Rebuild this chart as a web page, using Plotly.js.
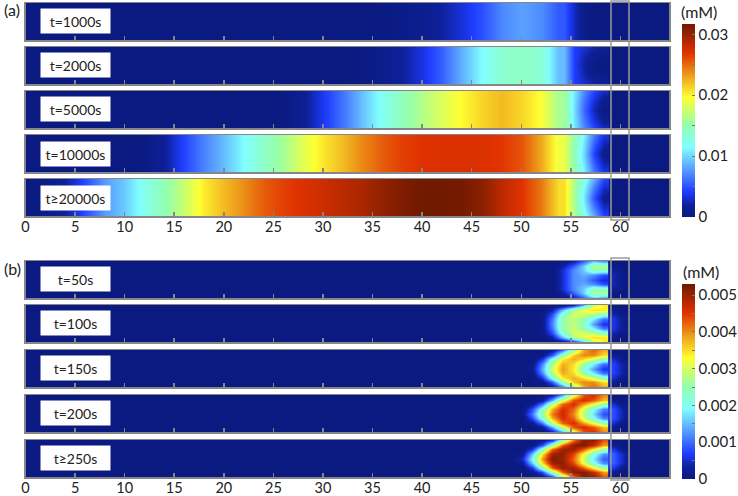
<!DOCTYPE html>
<html><head><meta charset="utf-8">
<script src="https://cdn.plot.ly/plotly-3.0.1.min.js"></script>
<style>html,body{margin:0;padding:0;background:#fff}#c{width:738px;height:496px}</style>
</head><body><div id="c"></div>
<script>
const labelsA = ['t=1000s','t=2000s','t=5000s','t=10000s','t≥20000s'];
const labelsB = ['t=50s','t=100s','t=150s','t=200s','t≥250s'];

// Panel (a): concentration (mM) along the channel, x = 0,2,...,54
const xA = [0,2,4,6,8,10,12,14,16,18,20,22,24,26,28,30,32,34,36,38,40,42,44,46,48,50,52,54];
const a1000 = [0,0,0,0,0,0,0,0,0,0,0,0,0,0,0,0,0,0,.0003,.0007,.0012,.002,.0033,.0048,.007,.008,.0072,.005];
const a2000 = [0,0,0,0,0,0,0,0,0,0,0,0,0,0,0,0,.0001,.0004,.001,.002,.0035,.0055,.0085,.0114,.0135,.014,.0132,.0085];
const a5000 = [0,0,0,0,0,0,0,0,0,0,0,0,0,.0003,.0015,.0038,.0062,.0092,.012,.0145,.0165,.0182,.0198,.0212,.0222,.0212,.0195,.0155];
const a10000 = [0,0,0,0,0,0,.0003,.0018,.0045,.0068,.009,.0114,.0138,.016,.0185,.0205,.0222,.024,.0255,.0265,.027,.0272,.0272,.0272,.0268,.0258,.0228,.0185];
const a20000 = [0,.0006,.002,.0046,.0077,.0095,.0123,.0148,.0175,.0203,.0222,.0238,.0255,.0265,.0272,.0278,.0285,.0292,.0302,.031,.0316,.0316,.0314,.0305,.0285,.027,.0245,.0205];
// near the wall, x = 54.3 ... 58.3 : wall edge, quarter height, mid height
const xWallA = [54.3,55.3,56.3,57.3,58.3];
const tail1000 = [[.0052,.0028,.0009,.0002,.0001],[.0052,.0028,.0009,.0002,.0001],[.0052,.0028,.0009,.0002,.0001]];
const tail2000 = [[.009,.0042,.0032,.0023,.0016],[.009,.0042,.0024,.001,.0007],[.009,.0042,.002,.0004,.0002]];
const tail5000 = [[.0159,.0107,.007,.0045,.0028],[.0159,.0105,.0063,.0033,.0012],[.0159,.0103,.0058,.0025,.0005]];
const tail10000 = [[.0189,.0152,.011,.0065,.0036],[.0189,.0148,.0103,.0054,.0022],[.0189,.0145,.0098,.0042,.001]];
const tail20000 = [[.0209,.0165,.0123,.0083,.0044],[.0209,.0162,.0112,.0065,.0028],[.0209,.016,.0104,.005,.0011]];

// Panel (b): rows from wall to mid height
const xB = [48,49.03,50.06,51.09,52.12,53.15,54.18,55.21,56.24,57.27,58.3];
const b50 = [
 [0,0,0,0,0,0,.0001,.0003,.0009,.0015,.0012],
 [0,0,0,0,0,0,.0003,.0009,.0016,.0027,.0027],
 [0,0,0,0,0,0,.0005,.0012,.0016,.0024,.0024],
 [0,0,0,0,0,0,.0005,.0012,.0014,.0012,.0008],
 [0,0,0,0,0,0,.0005,.0012,.0013,.0009,.0005]];
const b100 = [
 [0,0,0,0,0,0,0,.0004,.0014,.0029,.0034],
 [0,0,0,0,0,.0004,.0015,.0027,.0032,.0035,.0034],
 [0,0,0,0,.0001,.0008,.0022,.003,.003,.0028,.0023],
 [0,0,0,0,.0001,.0011,.0025,.0029,.0025,.0018,.001],
 [0,0,0,0,.0001,.0012,.0025,.0029,.0024,.0013,.0006]];
const b150 = [
 [0,0,0,0,0,.0002,.001,.0025,.0038,.0042,.0038],
 [0,0,0,0,.0001,.0009,.0024,.0036,.004,.004,.0035],
 [0,0,0,0,.0006,.0021,.0034,.0038,.0035,.003,.0024],
 [0,0,0,.0001,.0012,.0028,.0038,.0035,.0026,.0018,.001],
 [0,0,0,.0002,.0014,.003,.0039,.0034,.0022,.0013,.0006]];
const b200 = [
 [0,0,0,0,0,.0003,.0013,.003,.0043,.0046,.004],
 [0,0,0,0,.0002,.0014,.003,.0043,.0046,.0043,.0037],
 [0,0,0,.0002,.0011,.0029,.0042,.0046,.0039,.0032,.0025],
 [0,0,0,.0008,.0022,.0038,.0046,.0042,.003,.002,.0011],
 [0,0,.0001,.0011,.0026,.0041,.0047,.004,.0028,.0017,.0008]];
const b250 = [
 [0,0,0,0,.0001,.0006,.0024,.0041,.0051,.0051,.0043],
 [0,0,0,.0001,.0008,.0025,.0042,.0051,.0052,.0047,.0039],
 [0,0,0,.0006,.0023,.0042,.005,.005,.0043,.0034,.0026],
 [0,0,.0002,.0016,.0035,.005,.0051,.0044,.0032,.0021,.0012],
 [0,0,.0005,.002,.0039,.0052,.005,.0042,.003,.0018,.0009]];
// just beyond the wall, x = 59.3, 60.3, 61.3
const xBeyond = [59.3,60.3,61.3];
const beyond50 = [[0,0,0],[.0001,0,0],[.0003,.0001,0],[.0004,.0001,0],[.0004,.0001,0]];
const beyond100 = [[0,0,0],[.0002,0,0],[.0004,.0001,0],[.0006,.0002,0],[.0006,.0002,0]];
const beyond150 = [[0,0,0],[.0002,0,0],[.0005,.0001,0],[.0007,.0003,0],[.0007,.0003,0]];
const beyond200 = [[0,0,0],[.0002,0,0],[.0005,.0001,0],[.0008,.0003,0],[.0008,.0003,0]];
const beyond250 = [[0,0,0],[.0002,0,0],[.0006,.0001,0],[.0009,.0004,0],[.0009,.0004,0]];

const rowsY5 = [0,.25,.5,.75,1];
const rowsY9 = [0,.125,.25,.375,.5,.625,.75,.875,1];
const rowsY2 = [0,1];
const jet = [[0,'#0a1a80'],[.06,'#0e2099'],[.13,'#1e3cff'],[.25,'#5aa0ff'],[.36,'#80ffff'],[.48,'#96ffaa'],[.62,'#ffff32'],[.72,'#f0aa1e'],[.85,'#e13200'],[1,'#6e1900']];

const W = 738, H = 496;
const stripsA = [[3,40],[47,84],[91,128],[135,172],[179,216]];
const stripsB = [[261,298],[305,342],[350,387],[395,432],[440,477]];
const boxesA = [21,65,109,153.5,197.5];
const boxesB = [279,323,368,413,458];
const fx = p => p / W, fy = p => 1 - p / H;
const font = 'Lato, Open Sans, sans-serif';
const gray = '#85858a';
const mirror = m => [m[0],m[1],m[2],m[3],m[4],m[3],m[2],m[1],m[0]];

const bodiesA = [a1000,a2000,a5000,a10000,a20000];
const tailsA = [tail1000,tail2000,tail5000,tail10000,tail20000];
const bodiesB = [b50,b100,b150,b200,b250];
const beyondB = [beyond50,beyond100,beyond150,beyond200,beyond250];

const data = [], layout = {
  width: W, height: H, margin: {l:0,r:0,t:0,b:0,autoexpand:false}, paper_bgcolor:'#fff', plot_bgcolor:'#0a1a80',
  showlegend:false, annotations:[], shapes:[], font:{family:font, color:'#222', size:15},
  coloraxis: {cmin:0, cmax:.0317, colorscale:jet, colorbar:{
    x:fx(682), xanchor:'left', xpad:0, y:fy(217), yanchor:'bottom', ypad:0, len:193, lenmode:'pixels', thickness:13, thicknessmode:'pixels',
    outlinewidth:0, ticks:'inside', ticklen:3, tickcolor:'#777', tickmode:'array',
    tickvals:[0,.005,.01,.015,.02,.025,.03], ticktext:['0','','0.01','','0.02','','0.03'], tickfont:{family:font,size:15,color:'#222'}}},
  coloraxis2: {cmin:0, cmax:.0053, colorscale:jet, colorbar:{
    x:fx(682), xanchor:'left', xpad:0, y:fy(479), yanchor:'bottom', ypad:0, len:195, lenmode:'pixels', thickness:13, thicknessmode:'pixels',
    outlinewidth:0, ticks:'inside', ticklen:3, tickcolor:'#777', tickmode:'array',
    tickvals:[0,.0005,.001,.0015,.002,.0025,.003,.0035,.004,.0045,.005], ticktext:['0','','0.001','','0.002','','0.003','','0.004','','0.005'], tickfont:{family:font,size:15,color:'#222'}}}
};
let n = 0;
function strip(traces, y, box, label, last) {
  n++;
  const s = n === 1 ? '' : n;
  traces.forEach(t => data.push({type:'heatmap', x:t.x, y:t.y, z:t.z, zsmooth:'best', coloraxis:t.c, xaxis:'x'+s, yaxis:'y'+s, hoverinfo:'skip'}));
  layout['xaxis'+s] = {domain:[fx(25.5),fx(669)], range:[0,64.9], anchor:'y'+s, dtick:5, tick0:0, ticks:'inside', ticklen:4, tickwidth:1.5, tickcolor:gray,
    showline:true, linecolor:gray, linewidth:1.5, mirror:true, showgrid:false, zeroline:false, showticklabels:last, ticklabelstandoff:-3, tickfont:{family:font,size:14.5,color:'#222'}};
  layout['yaxis'+s] = {domain:[fy(y[1]),fy(y[0])], range:[0,1], anchor:'x'+s, showline:true, linecolor:gray, linewidth:1.5, mirror:true, showgrid:false, zeroline:false, showticklabels:false, ticks:''};
  layout.annotations.push({xref:'paper',yref:'paper',x:fx(75.5),y:fy(box),xanchor:'center',yanchor:'middle',text:label,showarrow:false,
    bgcolor:'#fff',width:69,height:24,borderpad:0,font:{family:font,size:14,color:'#222'}});
}
labelsA.forEach((l,i) => {
  const b = bodiesA[i], t = tailsA[i];
  strip([
    {x:xA, y:rowsY2, z:[b,b], c:'coloraxis'},
    {x:xWallA, y:rowsY5, z:[t[0],t[1],t[2],t[1],t[0]], c:'coloraxis'}
  ], stripsA[i], boxesA[i], l, i === 4);
});
labelsB.forEach((l,i) => {
  strip([
    {x:xB, y:rowsY9, z:mirror(bodiesB[i]), c:'coloraxis2'},
    {x:xBeyond, y:rowsY9, z:mirror(beyondB[i]), c:'coloraxis2'}
  ], stripsB[i], boxesB[i], l, i === 4);
});

[[1,220],[258,480]].forEach(([t,b]) => layout.shapes.push({type:'rect',xref:'paper',yref:'paper',x0:fx(611),x1:fx(629),y0:fy(b),y1:fy(t),line:{color:'#9a9a9a',width:1.5},fillcolor:'rgba(0,0,0,0)',layer:'above'}));
[['(a)',2,10],['(b)',2,268],['(mM)',679,11],['(mM)',681,271]].forEach(([t,x,y]) => layout.annotations.push({xref:'paper',yref:'paper',x:fx(x),y:fy(y),xanchor:'left',yanchor:'middle',text:t,showarrow:false,font:{family:font,size:16,color:'#222'}}));

Plotly.newPlot('c', data, layout, {displayModeBar:false, staticPlot:true});
</script></body></html>
